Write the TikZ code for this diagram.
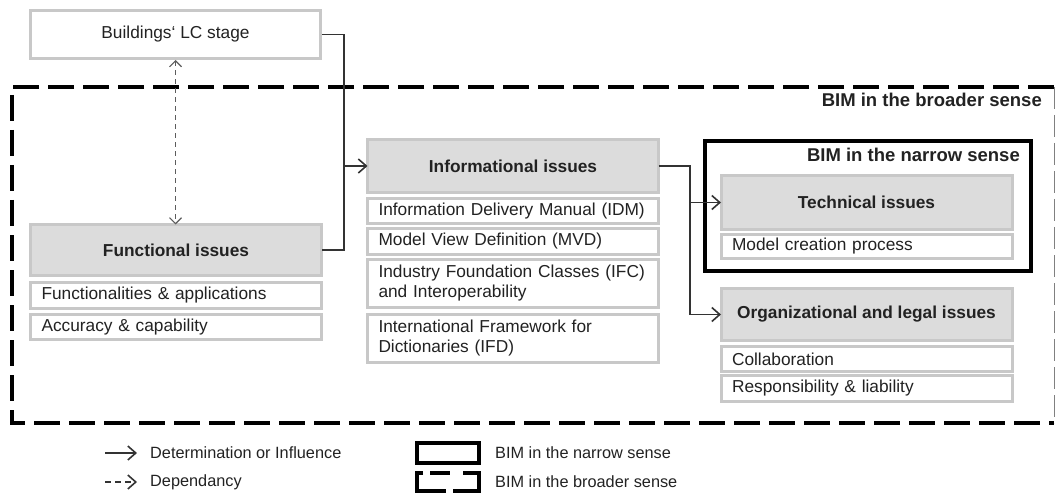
\documentclass[tikz,border=0pt]{standalone}
\usepackage{fontspec}
\setmainfont{Liberation Sans}
\usetikzlibrary{arrows.meta}
\definecolor{ink}{HTML}{222222}
\definecolor{edge}{HTML}{C8C8C8}
\definecolor{hdrfill}{HTML}{DCDCDC}
\definecolor{wire}{HTML}{333333}
\tikzset{
  txt/.style={font=\fontsize{17.3}{20}\selectfont, text=ink},
  hdr/.style={txt, font=\fontsize{17.3}{20}\selectfont\bfseries, draw=edge, line width=3pt,
    fill=hdrfill, minimum width=291pt, inner sep=0pt, outer sep=0pt},
  sub/.style={txt, draw=edge, line width=3pt, fill=white, minimum width=291pt,
    text width=269pt, inner xsep=11pt, inner ysep=0pt, align=left, outer sep=0pt},
  topbox/.style={txt, draw=edge, line width=3pt, fill=white, minimum width=290pt,
    minimum height=48pt, inner sep=0pt},
  tip/.style={-{Straight Barb[length=8pt,width=14pt,line width=1.6pt]}},
  arr/.style={draw=wire, line width=1.6pt, tip},
  link/.style={draw=wire, line width=1.6pt},
  dep/.style={draw=wire!80, line width=1.1pt, dash pattern=on 5pt off 4pt,
    {Straight Barb[length=6pt,width=12pt,line width=1.1pt]}-{Straight Barb[length=6pt,width=12pt,line width=1.1pt]}},
  deplegend/.style={draw=wire, line width=1.6pt, dash pattern=on 6pt off 4pt, tip},
  scope label/.style={font=\fontsize{18.5}{21}\selectfont\bfseries, text=ink, inner sep=0pt},
  legtext/.style={font=\fontsize{16.3}{19}\selectfont, text=ink, inner sep=0pt, anchor=west},
}
\begin{document}
\begin{tikzpicture}[x=1pt,y=-1pt]
\useasboundingbox (0,0) rectangle (1056,494);

% BIM in the broader sense: dashed frame
\draw[black, line width=3.5pt, dash pattern=on 26pt off 9pt]
  (1054,87) -- (12,87) -- (12,423) -- (1054,423);
\draw[gray, line width=1pt, dash pattern=on 22pt off 6pt] (1054.5,87) -- (1054.5,423);
\node[scope label, anchor=east] (broadlbl) at (1042,100) {BIM in the broader sense};

% BIM in the narrow sense: solid frame
\node[draw=black, line width=4pt, minimum width=326pt, minimum height=130pt, inner sep=0pt]
  (narrow) at (868,206) {};
\node[scope label, anchor=east] (narrowlbl) at (1020,155) {BIM in the narrow sense};

% life-cycle stage
\node[topbox] (lc) at (175.5,34.5) {Buildings‘ LC stage};

% functional issues
\node[hdr, minimum height=51pt] (func) at (176,250) {Functional issues};
\node[sub, minimum height=26pt] (func1) at (176,295.5) {Functionalities \& applications};
\node[sub, minimum height=25pt] (func2) at (176,327) {Accuracy \& capability};

% informational issues
\node[hdr, minimum height=53pt] (info) at (513,166) {Informational issues};
\node[sub, minimum height=25pt] (idm) at (513,211) {Information Delivery Manual (IDM)};
\node[sub, minimum height=26pt] (mvd) at (513,241.5) {Model View Definition (MVD)};
\node[sub, minimum height=48pt] (ifc) at (513,283.5) {Industry Foundation Classes (IFC)\\and Interoperability};
\node[sub, minimum height=48pt] (ifd) at (513,338.5) {International Framework for\\Dictionaries (IFD)};

% technical issues
\node[hdr, minimum height=54pt] (tech) at (866.5,202.5) {Technical issues};
\node[sub, minimum height=24pt] (model) at (866.5,246.5) {Model creation process};

% organizational and legal issues
\node[hdr, minimum height=52pt] (org) at (866.5,314.5) {Organizational and legal issues};
\node[sub, minimum height=25pt] (collab) at (866.5,359) {Collaboration};
\node[sub, minimum height=26pt] (resp) at (866.5,388.5) {Responsibility \& liability};

% connectors
\coordinate (j1) at (344,166);
\coordinate (j2) at (690,202.5);
\draw[link] (lc.east) -| (j1) |- (func.east);
\draw[arr] (j1) -- (info.west);
\draw[arr] (info.east) -| (j2) |- (org.west);
\draw[arr] (j2) -- (tech.west);
\draw[dep] (lc.south) -- (lc.south |- func.north);

% legend
\coordinate (la1) at (105,453);
\coordinate (la2) at (137,453);
\coordinate (lb1) at (105,482);
\coordinate (lb2) at (137,482);
\draw[arr] (la1) -- (la2);
\draw[deplegend] (lb1) -- (lb2);
\node[legtext] (lt1) at (150,453) {Determination or Influence};
\node[legtext] (lt2) at (150,482) {Dependancy};
\draw[black, line width=4pt] (417,443) rectangle (479,463);
\draw[black, line width=4pt] (423,473) -- (417,473) -- (417,491) -- (446,491);
\draw[black, line width=4pt] (430,473) -- (450,473);
\draw[black, line width=4pt] (463,473) -- (479,473) -- (479,491) -- (453,491);
\node[legtext] (lt3) at (495,453) {BIM in the narrow sense};
\node[legtext] (lt4) at (495,482) {BIM in the broader sense};
\end{tikzpicture}
\end{document}
